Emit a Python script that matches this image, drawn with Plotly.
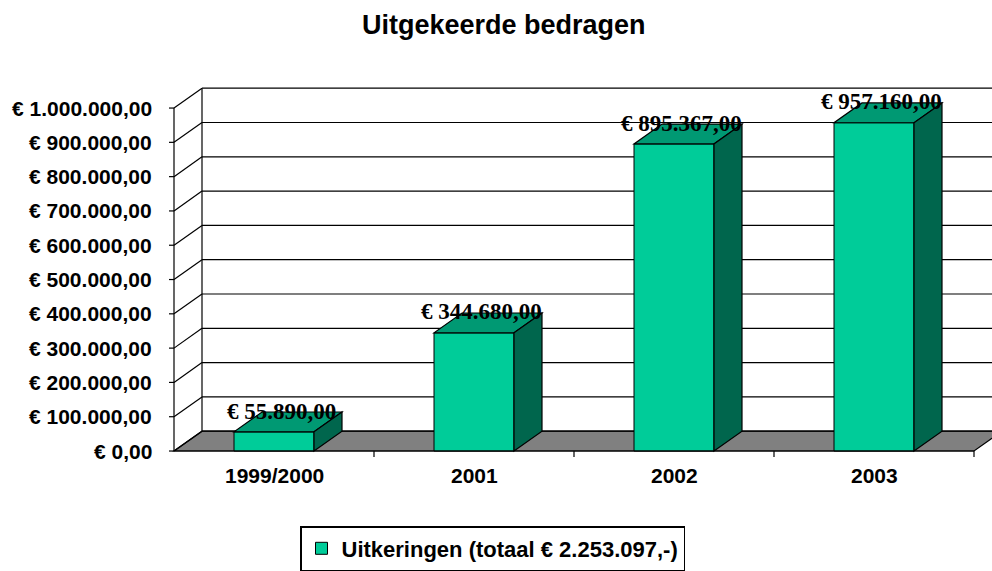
import plotly.graph_objects as go

# ---------------- data ----------------
categories = ["1999/2000", "2001", "2002", "2003"]
values = [55890, 344680, 895367, 957160]
tick_values = [0, 100000, 200000, 300000, 400000, 500000,
               600000, 700000, 800000, 900000, 1000000]
tick_labels = ["€ 0,00", "€ 100.000,00", "€ 200.000,00", "€ 300.000,00",
               "€ 400.000,00", "€ 500.000,00", "€ 600.000,00", "€ 700.000,00",
               "€ 800.000,00", "€ 900.000,00", "€ 1.000.000,00"]
series_name = "Uitkeringen (totaal € 2.253.097,-)"
title_text = "Uitgekeerde bedragen"

# ---------------- styling / geometry ----------------
W, H = 992, 571
PX_PER_CAT = 200.0          # pixels per category
PX_PER_VAL = 346.0 / 1e6    # pixels per euro
X0_PX = 174.0               # front axis pixel (category -0.5)
Y0_PX = 455.0               # pixel of value 0 (front)
x_lo = -0.5 - X0_PX / PX_PER_CAT
x_hi = -0.5 + (W - X0_PX) / PX_PER_CAT
y_hi = Y0_PX / PX_PER_VAL
y_lo = -(H - Y0_PX) / PX_PER_VAL

DX = 28 / PX_PER_CAT        # depth offset (category units)
DY = 20 / PX_PER_VAL        # depth offset (value units)
BAR_W = 80 / PX_PER_CAT
px_v = 1 / PX_PER_VAL       # one pixel in value units
px_c = 1 / PX_PER_CAT       # one pixel in category units

FRONT = "#00CC99"
TOP = "#009973"
SIDE = "#00664D"
FLOOR = "#808080"
SANS = "Arial, Liberation Sans, sans-serif"
SERIF = "Times New Roman, Liberation Serif, serif"

def nl_money(v):
    s = f"{v:,.2f}"
    s = s.replace(",", "X").replace(".", ",").replace("X", ".")
    return "€ " + s

n = len(categories)
xs = list(range(n))
left = -0.5
right = n - 0.5
vmax = tick_values[-1]

fig = go.Figure()

# front faces of the bars
fig.add_trace(go.Bar(
    x=xs, y=values, width=BAR_W, name=series_name,
    marker=dict(color=FRONT, line=dict(color="black", width=1)),
    hoverinfo="skip", showlegend=True,
))

shapes = []
line_k = dict(color="black", width=1.2)

# floor
shapes.append(dict(type="path", xref="x", yref="y", layer="below",
                   path=f"M{left},0 L{right},0 L{right+DX},{DY} L{left+DX},{DY} Z",
                   fillcolor=FLOOR, line=line_k))
# back wall gridlines
for t in tick_values:
    shapes.append(dict(type="line", xref="x", yref="y", layer="below",
                       x0=left + DX, x1=right + DX + 0.5, y0=t + DY, y1=t + DY,
                       line=line_k))
# left wall diagonals
for t in tick_values:
    shapes.append(dict(type="line", xref="x", yref="y", layer="below",
                       x0=left, x1=left + DX, y0=t, y1=t + DY, line=line_k))
# back wall left edge
shapes.append(dict(type="line", xref="x", yref="y", layer="below",
                   x0=left + DX, x1=left + DX, y0=DY, y1=vmax + DY, line=line_k))
# front value axis
shapes.append(dict(type="line", xref="x", yref="y", layer="above",
                   x0=left, x1=left, y0=0, y1=vmax, line=line_k))
for t in tick_values:
    shapes.append(dict(type="line", xref="x", yref="y", layer="above",
                       x0=left - 5 * px_c, x1=left, y0=t, y1=t, line=line_k))
# front category axis
shapes.append(dict(type="line", xref="x", yref="y", layer="above",
                   x0=left, x1=right, y0=0, y1=0, line=line_k))
for k in range(1, n + 1):
    shapes.append(dict(type="line", xref="x", yref="y", layer="above",
                       x0=left + k, x1=left + k, y0=0, y1=-6 * px_v, line=line_k))

# top and side faces of the bars
for i, v in zip(xs, values):
    a, b = i - BAR_W / 2, i + BAR_W / 2
    shapes.append(dict(type="path", xref="x", yref="y", layer="above",
                       path=f"M{a},{v} L{b},{v} L{b+DX},{v+DY} L{a+DX},{v+DY} Z",
                       fillcolor=TOP, line=line_k))
    shapes.append(dict(type="path", xref="x", yref="y", layer="above",
                       path=f"M{b},0 L{b+DX},{DY} L{b+DX},{v+DY} L{b},{v} Z",
                       fillcolor=SIDE, line=line_k))

annotations = []
# y tick labels
for t, lab in zip(tick_values, tick_labels):
    annotations.append(dict(x=left - 20 * px_c, y=t, xref="x", yref="y",
                            text=lab, showarrow=False, xanchor="right", yanchor="middle",
                            font=dict(family=SANS, size=21, color="black", weight="bold")))
# category labels
for i, c in zip(xs, categories):
    annotations.append(dict(x=i, y=-25 * px_v, xref="x", yref="y",
                            text=c, showarrow=False, xanchor="center", yanchor="middle",
                            font=dict(family=SANS, size=21, color="black", weight="bold")))
# value labels
for i, v in zip(xs, values):
    annotations.append(dict(x=i + 7 * px_c, y=v + DY + 1 * px_v, xref="x", yref="y",
                            text=nl_money(v), showarrow=False, xanchor="center",
                            yanchor="middle",
                            font=dict(family=SERIF, size=23, color="black", weight="bold")))
# title
annotations.append(dict(x=504 / W, y=1 - 25 / H, xref="paper", yref="paper",
                        text=title_text, showarrow=False, xanchor="center",
                        yanchor="middle",
                        font=dict(family=SANS, size=27, color="black", weight="bold")))

fig.update_layout(
    width=W, height=H, autosize=False,
    margin=dict(l=0, r=0, t=0, b=0, pad=0),
    paper_bgcolor="white", plot_bgcolor="white",
    xaxis=dict(range=[x_lo, x_hi], visible=False, fixedrange=True),
    yaxis=dict(range=[y_lo, y_hi], visible=False, fixedrange=True),
    shapes=shapes, annotations=annotations,
    showlegend=True,
    legend=dict(x=300 / W, y=1 - 531 / H, xanchor="left", yanchor="top",
                bgcolor="white", bordercolor="black", borderwidth=1.5,
                font=dict(family=SANS, size=22, color="black", weight="bold")),
    bargap=0,
)

fig.write_html("out.html", config={"displayModeBar": False, "staticPlot": True})

# remove the browser's default page margin so the figure fills the window exactly
with open("out.html", "r", encoding="utf-8") as f:
    html = f.read()
html = html.replace("<body>", '<body style="margin:0;padding:0;overflow:hidden">', 1)
with open("out.html", "w", encoding="utf-8") as f:
    f.write(html)
